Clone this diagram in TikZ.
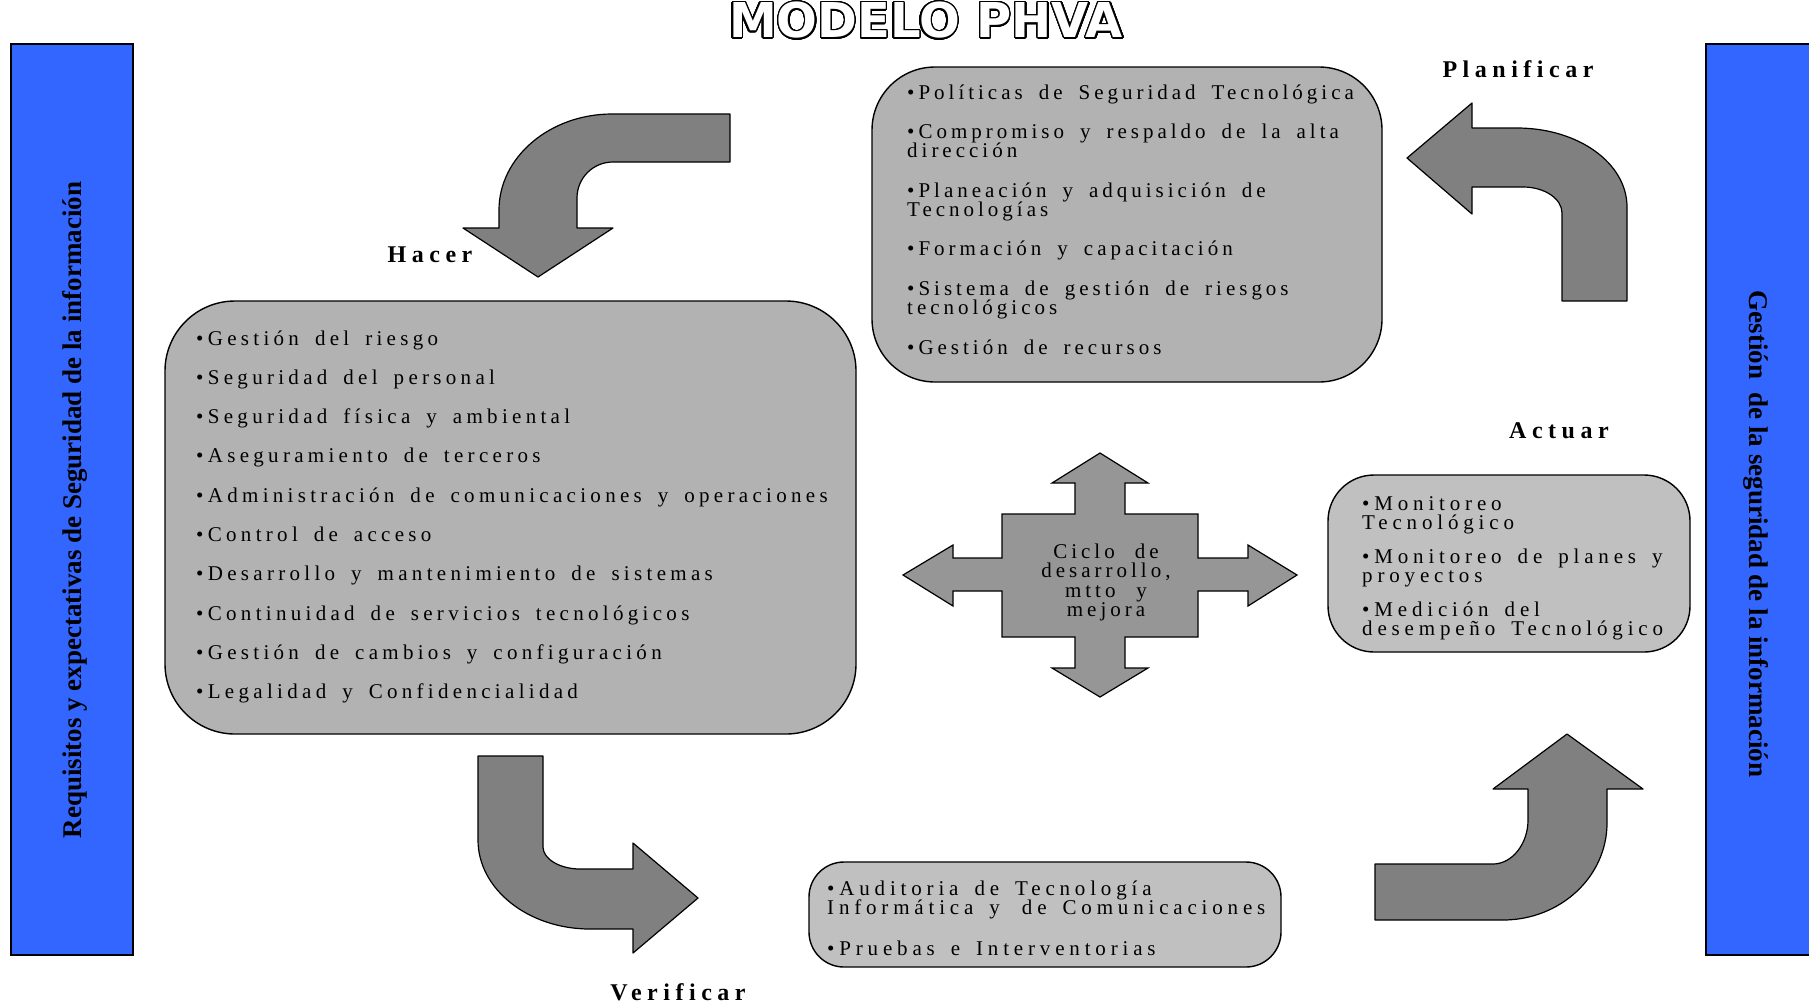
\documentclass[tikz,border=0pt]{standalone}
\usepackage{fontspec}
\usepackage{contour}
\setmainfont{Liberation Serif}
\newfontfamily\bodyfont[LetterSpace=19]{Liberation Serif}
\newfontfamily\listfont[LetterSpace=20.5]{Liberation Serif}
\newfontfamily\widebodyfont[LetterSpace=23]{Liberation Serif}
\newfontfamily\labelfont[LetterSpace=23]{Liberation Serif}
\newfontfamily\sidefont{Liberation Serif}
\newfontfamily\titlefont{DejaVu Sans}
\contournumber{32}
\contourlength{1.4pt}

\definecolor{barblue}{RGB}{51,102,255}
\definecolor{boxdark}{RGB}{178,178,178}
\definecolor{boxlight}{RGB}{192,192,192}
\definecolor{crossgray}{RGB}{150,150,150}
\definecolor{arrowgray}{RGB}{128,128,128}

% wide word spacing to go with the tracked letters (set inside the node text,
% after the alignment code has fixed its own inter-word space)
\newcommand\wordgap{\spaceskip=16pt plus 3pt minus 2pt\relax}
\newcommand\bodytext{\bodyfont\fontsize{21}{19.5}\selectfont}
\newcommand\widebodytext{\widebodyfont\fontsize{21}{19.5}\selectfont}

\tikzset{
  sidebar/.style={draw=black, line width=1.2pt, fill=barblue},
  sidetext/.style={font=\sidefont\bfseries\fontsize{27}{30}\selectfont, inner sep=0},
  panel/.style={draw=black, line width=1.4pt},
  bent/.style={draw=black, line width=1.2pt, fill=arrowgray, line join=round},
  phase/.style={font=\labelfont\bfseries\fontsize{24}{26}\selectfont, inner sep=0},
  item/.style={anchor=base west, inner sep=0, text width=700pt, align=left, font=\bodytext},
}

\begin{document}
\begin{tikzpicture}[x=1pt,y=-1pt]
\useasboundingbox (0,0) rectangle (1809,1005);
\fill[white] (0,0) rectangle (1809,1005);

% title with outlined letters
\node[font=\titlefont\bfseries\fontsize{48}{50}\selectfont, text=white, inner sep=0] (title) at (926,21) {\contour{black}{MODELO PHVA}};

% side bars
\draw[sidebar] (11,44) rectangle (133,955);
\node[sidetext, rotate=90] (reqtext) at (75,510) {Requisitos y expectativas de Seguridad de la información};
\draw[sidebar] (1706,44) rectangle (1815,955);
\node[sidetext, rotate=-90] (gsitext) at (1756,534) {Gestión~ de la seguridad de la información};

% rounded panels
\draw[panel, fill=boxdark, rounded corners=70pt] (165,301) rectangle (856,734);
\draw[panel, fill=boxdark, rounded corners=63pt] (872,67) rectangle (1382,382);
\draw[panel, fill=boxlight, rounded corners=46pt] (1328,475) rectangle (1690,652);
\draw[panel, fill=boxlight, rounded corners=35pt] (809,862) rectangle (1281,967);

% bent arrows
\draw[bent] (730,114) -- (612,114) .. controls (550,114) and (499,157) .. (499,210)
  -- (499,228) -- (463,228) -- (538,277) -- (613,228) -- (577,228) -- (577,198)
  .. controls (577,178) and (593,162) .. (613,162) -- (730,162) -- cycle;
\draw[bent] (478,756) -- (543,756) -- (543,847) .. controls (543,859) and (560,869) .. (580,869)
  -- (633,869) -- (633,843) -- (698,898) -- (633,953) -- (633,929) -- (590,929)
  .. controls (528,929) and (478,889) .. (478,840) -- cycle;
\draw[bent] (1375,864) -- (1493,864) .. controls (1512,864) and (1528,844) .. (1528,820)
  -- (1528,789) -- (1493,789) -- (1567,734) -- (1643,789) -- (1607,789) -- (1607,823)
  .. controls (1607,877) and (1560,920) .. (1503,920) -- (1375,920) -- cycle;
\draw[bent] (1627,301) -- (1627,207) .. controls (1627,163) and (1578,128) .. (1517,128)
  -- (1472,128) -- (1472,103) -- (1407,158) -- (1472,214) -- (1472,187) -- (1523,187)
  .. controls (1545,187) and (1562,199) .. (1562,213) -- (1562,301) -- cycle;

% four-way arrow in the centre
\draw[bent, fill=crossgray, line join=miter]
  (1002,514) -- (1075,514) -- (1075,483) -- (1052,483) -- (1100,453) -- (1148,483)
  -- (1125,483) -- (1125,514) -- (1198,514) -- (1198,558) -- (1248,558) -- (1248,545)
  -- (1297,575) -- (1248,606) -- (1248,591) -- (1198,591) -- (1198,637) -- (1125,637)
  -- (1125,668) -- (1148,668) -- (1100,697) -- (1052,668) -- (1075,668) -- (1075,637)
  -- (1002,637) -- (1002,591) -- (953,591) -- (953,606) -- (903,575) -- (953,545)
  -- (953,558) -- (1002,558) -- cycle;
\node[anchor=base, inner sep=0, text width=220pt, align=center, font=\bodytext] (ciclo) at (1106,558)
  {\wordgap Ciclo de\\desarrollo,\\mtto y\\mejora};

% phase labels
\node[phase] (hacer) at (430,255) {Hacer};
\node[phase] (planificar) at (1518,69) {Planificar};
\node[phase] (actuar) at (1559,431) {Actuar};
\node[phase] (verificar) at (678,992) {Verificar};

% panel contents
\node[item, font=\listfont\fontsize{21}{39.3}\selectfont] (hacerlist) at (196,345)
  {\wordgap
   •Gestión del riesgo\\
   •Seguridad del personal\\
   •Seguridad física y ambiental\\
   •Aseguramiento de terceros\\
   •Administración de comunicaciones y operaciones\\
   •Control de acceso\\
   •Desarrollo y mantenimiento de sistemas\\
   •Continuidad de servicios tecnológicos\\
   •Gestión de cambios y configuración\\
   •Legalidad y Confidencialidad};
\node[item] (planlist) at (907,99)
  {\wordgap
   •Políticas de Seguridad Tecnológica\\[19.8pt]
   •Compromiso y respaldo de la alta\\dirección\\[19.8pt]
   •Planeación y adquisición de\\Tecnologías\\[19.8pt]
   •Formación y capacitación\\[19.8pt]
   •Sistema de gestión de riesgos\\tecnológicos\\[19.8pt]
   •Gestión de recursos};
\node[item, font=\widebodytext] (actlist) at (1362,510)
  {\wordgap
   •Monitoreo\\Tecnológico\\[14pt]
   •Monitoreo de planes y\\proyectos\\[14pt]
   •Medición del\\desempeño Tecnológico};
\node[item, font=\widebodytext] (verlist) at (827,895)
  {\wordgap
   •Auditoria de Tecnología\\Informática y\hskip22pt de Comunicaciones\\[21pt]
   •Pruebas e Interventorias};
\end{tikzpicture}
\end{document}
